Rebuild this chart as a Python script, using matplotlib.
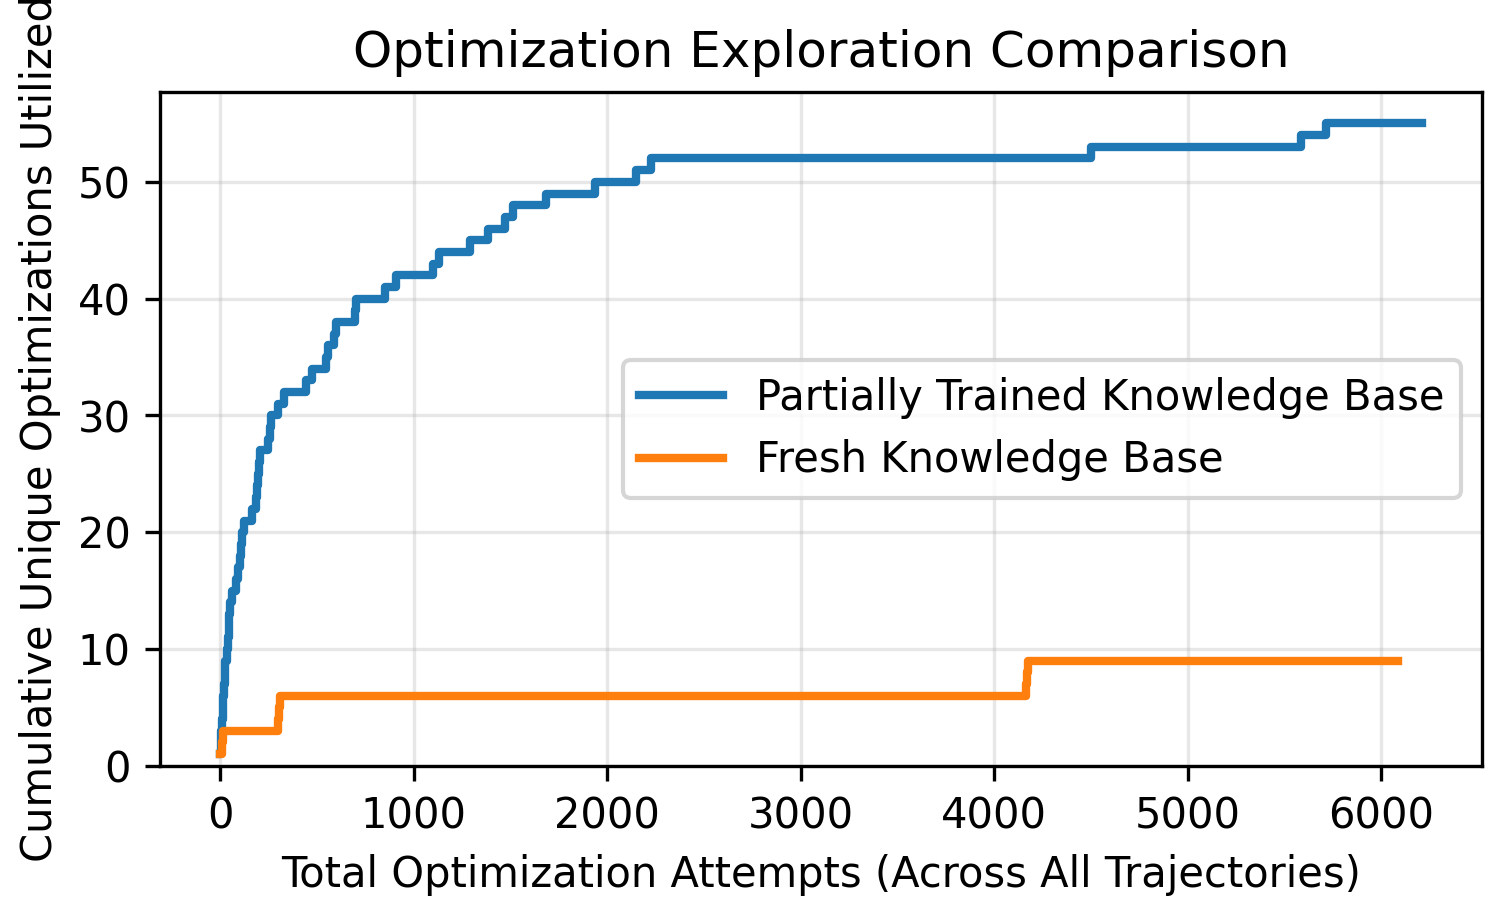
import matplotlib
matplotlib.use("Agg")
import matplotlib.pyplot as plt

# Step points (attempt index where a new optimization first appears)
trained_x = [0, 3, 6, 10, 13, 16, 20, 24, 28, 35, 40, 45, 48, 52, 60, 85, 95, 105,
             110, 115, 125, 165, 185, 190, 195, 200, 205, 250, 258, 265, 300, 330,
             445, 475, 545, 560, 590, 600, 700, 705, 850, 910, 1100, 1130, 1290,
             1385, 1470, 1515, 1685, 1940, 2150, 2225, 4500, 5585, 5715, 6210]
trained_y = [1, 2, 3, 4, 5, 6, 7, 8, 9, 10, 11, 12, 13, 14, 15, 16, 17, 18,
             19, 20, 21, 22, 23, 24, 25, 26, 27, 28, 29, 30, 31, 32,
             33, 34, 35, 36, 37, 38, 39, 40, 41, 42, 43, 44, 45,
             46, 47, 48, 49, 50, 51, 52, 53, 54, 55, 55]

fresh_x = [0, 8, 15, 300, 305, 310, 4165, 4170, 4175, 6085]
fresh_y = [1, 2, 3, 4, 5, 6, 7, 8, 9, 9]

fig, ax = plt.subplots(figsize=(5.03, 3.007), dpi=300)
ax.step(trained_x, trained_y, where="post", linewidth=2, label="Partially Trained Knowledge Base")
ax.step(fresh_x, fresh_y, where="post", linewidth=2, label="Fresh Knowledge Base")
ax.set_ylim(bottom=0)
ax.set_xlabel("Total Optimization Attempts (Across All Trajectories)")
ax.set_ylabel("Cumulative Unique Optimizations Utilized")
ax.set_title("Optimization Exploration Comparison")
ax.grid(True, alpha=0.3)
ax.legend(loc="center right")
fig.subplots_adjust(left=0.106, right=0.982, top=0.898, bottom=0.151)
fig.savefig("out.png")
